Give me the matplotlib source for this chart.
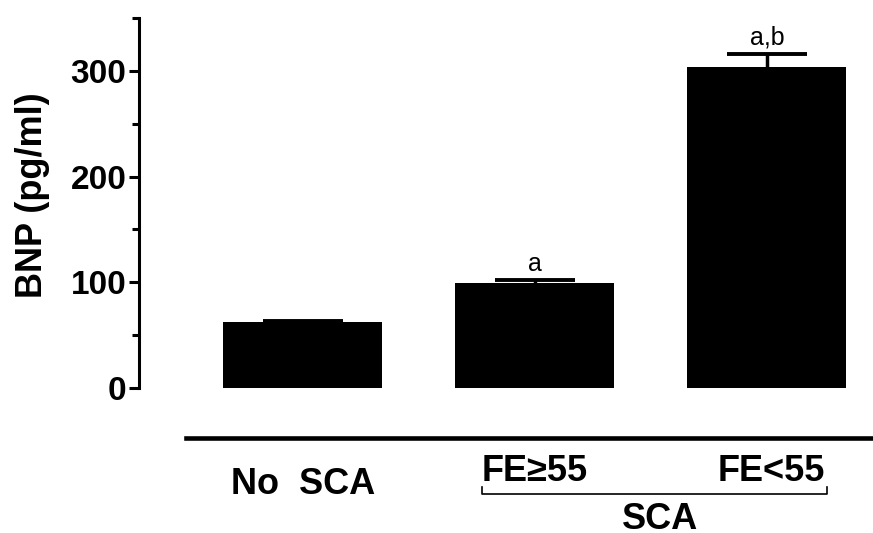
import matplotlib
matplotlib.use('Agg')
import matplotlib.pyplot as plt

# BNP by group
groups = ['No  SCA', 'FE\u226555', 'FE<55']
bnp = [62, 99, 304]
sem = [1.5, 3, 12]
sig = ['', 'a', 'a,b']

plt.rcParams['font.family'] = ['Liberation Sans', 'DejaVu Sans']

fig = plt.figure(figsize=(8.73, 5.33), dpi=100)
ax = fig.add_axes([0.159, 0.272, 0.841, 0.694])

x = range(len(groups))
ax.bar(x, bnp, width=0.685, color='black', zorder=2)
# errorbars under the bars so only the upper cap shows
ax.errorbar(x, bnp, yerr=sem, fmt='none', ecolor='black',
            elinewidth=2.5, capsize=29, capthick=2.8, zorder=1)

for i, s in enumerate(sig):
    if s:
        ax.text(i, bnp[i] + sem[i] + 4, s, ha='center', va='bottom', fontsize=18)

ax.set_xlim(-0.707, 2.457)
ax.set_ylim(0, 350)
ax.set_yticks([0, 100, 200, 300])
ax.set_yticks([50, 150, 250, 350], minor=True)
ax.set_xticks([])
for side in ['top', 'right', 'bottom']:
    ax.spines[side].set_visible(False)
ax.spines['left'].set_linewidth(2.2)
ax.tick_params(axis='y', which='major', length=7, width=2.2, labelsize=24, pad=2)
ax.tick_params(axis='y', which='minor', length=5, width=2.2)
for lab in ax.get_yticklabels():
    lab.set_fontweight('bold')
ax.set_ylabel('BNP (pg/ml)', fontsize=26, fontweight='bold')
ax.yaxis.set_label_coords(-0.121, 0.522)

# group line and labels below the bars
ax.plot([-0.504, 2.5], [-47.5, -47.5], color='black', lw=3.3, clip_on=False)
ax.text(0, -91, groups[0], ha='center', va='center', fontsize=26, fontweight='bold')
ax.text(1, -79, groups[1], ha='center', va='center', fontsize=26, fontweight='bold')
ax.text(2.017, -79, groups[2], ha='center', va='center', fontsize=26, fontweight='bold')
ax.plot([0.77, 0.77, 2.26, 2.26], [-94, -100, -100, -94], color='black', lw=1.2, clip_on=False)
ax.text(1.54, -124, 'SCA', ha='center', va='center', fontsize=26, fontweight='bold')

fig.savefig('out.png', dpi=100)
